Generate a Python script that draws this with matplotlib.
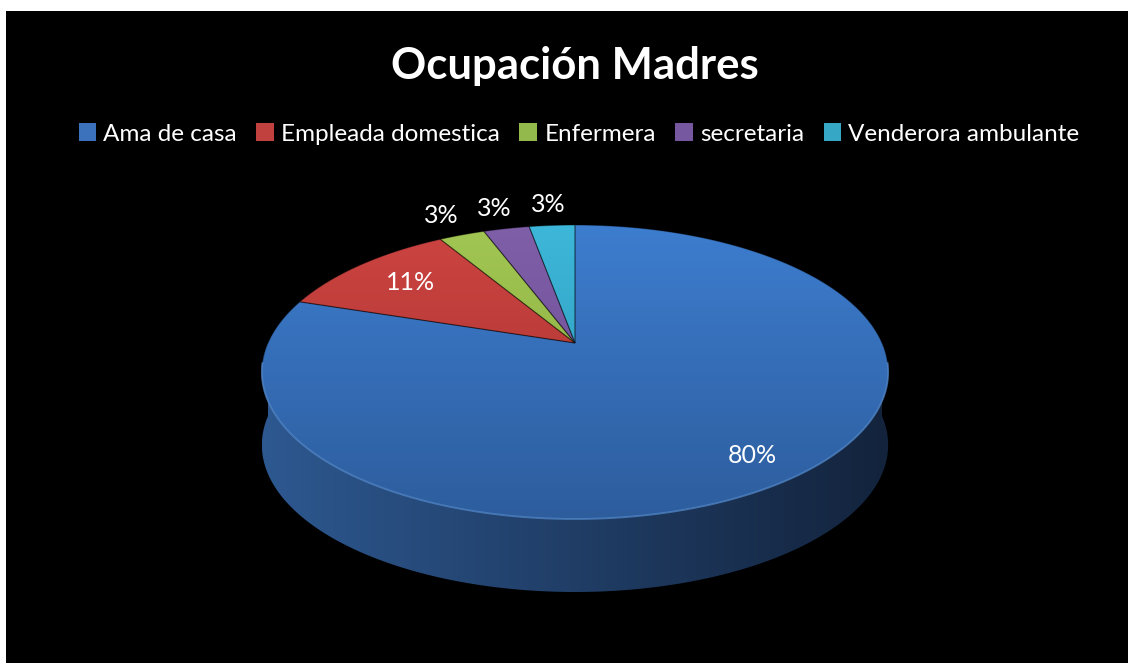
import numpy as np
import matplotlib.pyplot as plt
from matplotlib.patches import Polygon, Rectangle, Patch
from matplotlib.colors import to_rgb

# data
categories = ["Ama de casa", "Empleada domestica", "Enfermera", "secretaria", "Venderora ambulante"]
counts = [28, 4, 1, 1, 1]

# colours (light top / dark bottom of top face, side left / side right)
top_light = ["#3d7dcf", "#cd4441", "#a2c653", "#805fa9", "#3db7d9"]
top_dark = ["#2d5d9d", "#a33230", "#86a83c", "#67498f", "#2b93b4"]
side_light = ["#2d5890", "#8c2c2a", "#6f8a31", "#553c78", "#237a96"]
side_dark = ["#13233c", "#4a1616", "#3a4a19", "#2c1f40", "#123f4f"]
legend_cols = ["#3b72bb", "#c0413e", "#93b84c", "#7658a0", "#37a7c6"]

# label distance from centre (fraction of radius)
label_r = [0.85, 0.75, 1.22, 1.22, 1.22]

# view of the 3d pie (pixel units)
cx, cy = 575, 343
S = 307
phi = np.radians(27.4)
D = 4.5
thick = 73   # side wall height in pixels
s, c = np.sin(phi), np.cos(phi)


def proj(theta, r=1.0):
    X = r * np.cos(theta)
    Y = r * np.sin(theta)
    k = D / (D + Y * c)
    return cx + S * X * k, cy - S * Y * s * k


def gradient(c1, c2, horizontal=False, n=256):
    a, b = np.array(to_rgb(c1)), np.array(to_rgb(c2))
    t = np.linspace(0, 1, n)[:, None]
    g = a + (b - a) * t
    if horizontal:
        return g[None, :, :]
    return g[:, None, :]


fig = plt.figure(figsize=(11.29, 6.63), dpi=100, facecolor="white")
ax = fig.add_axes([0, 0, 1, 1])
ax.set_axis_off()
ax.add_patch(Rectangle((6, 11), 1122, 660, facecolor="black", edgecolor="none", zorder=0))

total = sum(counts)
frac = np.array(counts) / total
starts = 90 - 360 * np.r_[0, np.cumsum(frac)[:-1]]
ends = 90 - 360 * np.cumsum(frac)

# bounding box for the gradients
full = np.linspace(0, 2 * np.pi, 400)
fx, fy = proj(full)
xl, xr = fx.min(), fx.max()
ytop, ybot = fy.min(), fy.max()

# side walls (front part only)
for i in range(len(counts)):
    lo, hi = ends[i], starts[i]
    for shift in (-360, 0, 360):
        a = max(lo + shift, -180)
        b = min(hi + shift, 0)
        if a >= b:
            continue
        th = np.radians(np.linspace(a, b, 200))
        tx, ty = proj(th)
        pts = np.column_stack([np.r_[tx, tx[::-1]], np.r_[ty, ty[::-1] + thick]])
        poly = Polygon(pts, closed=True, facecolor="none", edgecolor="none", zorder=1)
        ax.add_patch(poly)
        im = ax.imshow(gradient(side_light[i], side_dark[i], horizontal=True),
                       extent=(xl, xr, ybot + thick, ytop), aspect="auto", zorder=1)
        im.set_clip_path(poly)

# top faces
for i in range(len(counts)):
    th = np.radians(np.linspace(starts[i], ends[i], 200))
    tx, ty = proj(th)
    poly = Polygon(np.column_stack([np.r_[cx, tx], np.r_[cy, ty]]), closed=True,
                   facecolor="none", edgecolor=(0, 0, 0, 0.35), lw=0.8, zorder=3)
    ax.add_patch(poly)
    im = ax.imshow(gradient(top_light[i], top_dark[i]),
                   extent=(xl, xr, ybot, ytop), aspect="auto", zorder=2)
    im.set_clip_path(poly)

# light rim along the front edge of the top face
rim = np.radians(np.linspace(-172, -8, 300))
rx, ry = proj(rim)
ax.plot(rx, ry, color="#5b95dd", lw=1.3, alpha=0.7, zorder=4)

# percentage labels
for i in range(len(counts)):
    mid = np.radians((starts[i] + ends[i]) / 2)
    lx, ly = proj(mid, r=label_r[i])
    ax.text(lx, ly, f"{round(frac[i] * 100)}%", color="white", fontsize=18,
            family="Lato", ha="center", va="center", zorder=5)

ax.text(575, 79, "Ocupación Madres", color="white", fontsize=31.5, fontweight="bold",
        family="Lato", ha="center", va="baseline")

handles = [Patch(facecolor=col, edgecolor="none") for col in legend_cols]
fig.legend(handles, categories, loc="center", bbox_to_anchor=(579 / 1129, 1 - 134 / 663),
           ncol=5, frameon=False, labelcolor="white", prop={"family": "Lato", "size": 17.5},
           handlelength=0.72, handleheight=0.72, handletextpad=0.3, columnspacing=0.8)

ax.set_xlim(0, 1129)
ax.set_ylim(663, 0)
fig.savefig("out.png", dpi=100, facecolor="white")
